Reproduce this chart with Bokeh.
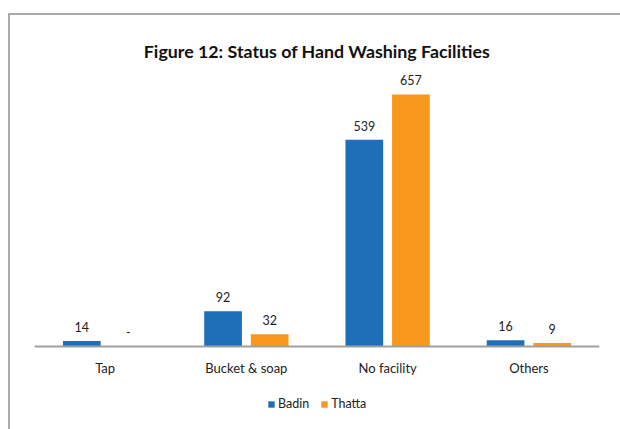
from bokeh.plotting import figure
from bokeh.models import FactorRange, Range1d, ColumnDataSource, Legend, LegendItem, InlineStyleSheet
from bokeh.transform import dodge
from bokeh.core.properties import value
from bokeh.embed import file_html
from bokeh.resources import INLINE

categories = ["Tap", "Bucket & soap", "No facility", "Others"]
badin = [14, 92, 539, 16]
thatta = [0, 32, 657, 9]
series_names = ["Badin", "Thatta"]
title_text = "Figure 12: Status of Hand Washing Facilities"

BLUE = "#1f6fb8"
ORANGE = "#f7981d"
FONT = "Lato"

def fmt(v):
    return "-" if v == 0 else str(v)

src = ColumnDataSource(dict(
    cat=categories,
    badin=badin,
    thatta=thatta,
    badin_lbl=[fmt(v) for v in badin],
    thatta_lbl=[fmt(v) for v in thatta],
))

# frame spans down to the page bottom; the category axis sits at y = 0
p = figure(
    x_range=FactorRange(*categories, range_padding=0),
    y_range=Range1d(-216.4, 719.5),
    frame_width=565, frame_height=359,
    min_border_left=34, min_border_right=21,
    min_border_top=70, min_border_bottom=0,
    y_axis_location=None,
    toolbar_location=None,
    output_backend="svg",
    title=title_text,
)

# chart-area border (top and left edges visible), drawn as a CSS background
p.border_fill_color = None
p.stylesheets = [InlineStyleSheet(css=(
    ":host { background: "
    "linear-gradient(#aaaaaa, #aaaaaa) 8px 13px / 2px 600px no-repeat, "
    "linear-gradient(#aaaaaa, #aaaaaa) 8px 13px / 800px 2px no-repeat, #ffffff; }"
))]

p.title.text_font = FONT
p.title.text_font_size = "17.8px"
p.title.text_font_style = "bold"
p.title.text_color = "#111111"
p.title.align = "center"
p.title.standoff = 18

p.outline_line_color = None
p.xgrid.grid_line_color = None
p.ygrid.grid_line_color = None
p.background_fill_color = "white"

ax = p.xaxis[0]
ax.fixed_location = 0
ax.axis_line_color = "#a0a0a0"
ax.axis_line_width = 2
ax.major_tick_line_color = None
ax.minor_tick_line_color = None
ax.major_tick_out = 0
ax.major_tick_in = 0
ax.major_label_standoff = 14
ax.major_label_text_font = FONT
ax.major_label_text_font_size = "13px"
ax.major_label_text_color = "#222222"

r1 = p.vbar(x=dodge("cat", -0.165, range=p.x_range), top="badin", width=0.267,
            source=src, fill_color=BLUE, line_color=None)
r2 = p.vbar(x=dodge("cat", 0.165, range=p.x_range), top="thatta", width=0.267,
            source=src, fill_color=ORANGE, line_color=None)

p.text(x=dodge("cat", -0.165, range=p.x_range), y="badin", text="badin_lbl", source=src,
       text_align="center", text_baseline="middle", y_offset=-14,
       text_font=value(FONT), text_font_size="12.5px", text_color="#222222")
p.text(x=dodge("cat", 0.165, range=p.x_range), y="thatta", text="thatta_lbl", source=src,
       text_align="center", text_baseline="middle", y_offset=-14,
       text_font=value(FONT), text_font_size="12.5px", text_color="#222222")

legend = Legend(
    items=[LegendItem(label=series_names[0], renderers=[r1]),
           LegendItem(label=series_names[1], renderers=[r2])],
    orientation="horizontal",
    location=(233, 18),
    glyph_width=8, glyph_height=8,
    label_standoff=3, spacing=11,
    padding=0, margin=0,
    border_line_color=None, background_fill_alpha=0,
    label_text_font=FONT, label_text_font_size="12.5px", label_text_color="#222222",
    label_height=10,
)
p.add_layout(legend, "center")

open("out.html", "w").write(file_html(p, INLINE))
